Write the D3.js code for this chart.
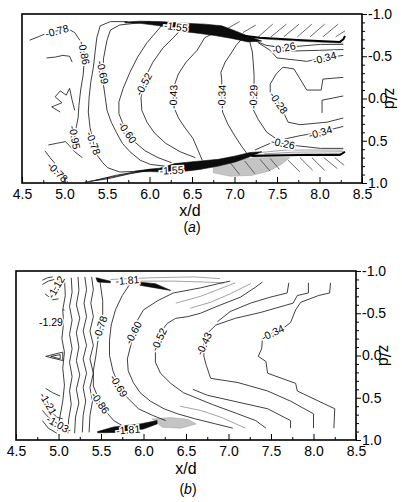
<!DOCTYPE html>
<html><head><meta charset="utf-8">
<script src="https://cdn.jsdelivr.net/npm/d3@7"></script>
<style>body{margin:0;background:#fff} svg{display:block} text{font-family:"Liberation Sans",Arial,Helvetica,sans-serif}</style>
</head><body><svg id="c" width="402" height="502"></svg>
<script>
// ---------- axes ----------
const xMajor = [4.5,5.0,5.5,6.0,6.5,7.0,7.5,8.0,8.5];
const xLabels = ["4.5","5.0","5.5","6.0","6.5","7.0","7.5","8.0","8.5"];
const xMinor = [4.75,5.25,5.75,6.25,6.75,7.25,7.75,8.25];
const zMajor = [-1,-0.5,0,0.5,1];
const zLabels = ["-1.0","-0.5","0.0","0.5","1.0"];
const zMinor = [-0.9,-0.8,-0.7,-0.6,-0.4,-0.3,-0.2,-0.1,0.1,0.2,0.3,0.4,0.6,0.7,0.8,0.9];

// ---------- panel (a) contour lines [x/d, z/d] ----------
const aL1 = [[4.59,-0.69],[4.69,-0.73],[4.76,-0.76],[4.91,-0.80],[5.05,-0.82],[5.12,-0.78],[5.18,-0.69],[5.22,-0.63],[5.23,-0.54],[5.23,-0.42],[5.22,-0.28],[5.19,-0.10],[5.17,0.08],[5.16,0.23],[5.14,0.33],[5.12,0.46],[5.10,0.58]];
const aL2 = [[4.79,-0.48],[4.89,-0.49],[4.98,-0.51],[5.06,-0.50],[5.09,-0.43]];
const aSquig = [[4.95,0.16],[4.85,0.10],[4.97,0.05],[4.89,-0.02],[4.95,-0.09],[5.02,-0.04],[5.06,-0.12],[5.09,0.02],[5.12,0.14]];
const aL4 = [[4.81,0.55],[4.91,0.53],[5.01,0.51],[5.06,0.56],[5.12,0.63],[5.21,0.70]];
const aL5 = [[4.77,0.62],[4.83,0.70],[4.88,0.76],[4.92,0.87],[4.99,0.95],[5.04,0.99]];
const aL6 = [[5.74,-0.91],[5.54,-0.91],[5.42,-0.86],[5.38,-0.72],[5.36,-0.55],[5.34,-0.37],[5.31,-0.20],[5.29,-0.02],[5.28,0.16],[5.30,0.34],[5.34,0.53],[5.39,0.68],[5.45,0.76],[5.51,0.82],[5.65,0.87],[5.89,0.86]];
const aL7 = [[6.01,-0.91],[5.65,-0.87],[5.54,-0.81],[5.50,-0.69],[5.46,-0.48],[5.45,-0.31],[5.46,-0.15],[5.48,-0.01],[5.50,0.14],[5.55,0.28],[5.61,0.40],[5.68,0.53],[5.77,0.63],[5.89,0.73],[6.01,0.78],[6.18,0.80]];
const aL8 = [[6.18,-0.91],[6.09,-0.80],[5.97,-0.66],[5.86,-0.49],[5.77,-0.31],[5.69,-0.12],[5.64,0.04],[5.64,0.18],[5.68,0.28],[5.74,0.40],[5.82,0.51],[5.95,0.62],[6.10,0.70],[6.26,0.76]];
const aL9 = [[6.42,-0.87],[6.30,-0.74],[6.16,-0.60],[6.04,-0.43],[5.97,-0.29],[5.93,-0.17],[5.90,-0.01],[5.91,0.14],[5.97,0.28],[6.06,0.41],[6.19,0.53],[6.36,0.63],[6.54,0.70]];
const aL10 = [[6.77,-0.78],[6.65,-0.72],[6.56,-0.57],[6.43,-0.43],[6.34,-0.29],[6.29,-0.15],[6.28,-0.02],[6.29,0.11],[6.34,0.23],[6.42,0.35],[6.51,0.47],[6.57,0.61],[6.62,0.73]];
const aL11 = [[7.10,-0.72],[7.02,-0.63],[6.97,-0.55],[6.89,-0.43],[6.84,-0.31],[6.85,-0.22],[6.85,-0.02],[6.86,0.16],[6.92,0.30],[6.99,0.42],[7.08,0.56],[7.16,0.67]];
const aL12 = [[7.18,-0.67],[7.21,-0.55],[7.22,-0.43],[7.23,-0.28],[7.23,-0.15],[7.22,-0.02],[7.21,0.11],[7.28,0.25],[7.38,0.40],[7.51,0.49]];
const aL13 = [[8.28,-0.25],[8.04,-0.23],[8.02,-0.10],[7.85,-0.10],[7.70,-0.35],[7.57,-0.37],[7.49,-0.29],[7.42,-0.17],[7.42,-0.08],[7.52,0.05],[7.58,0.17],[7.63,0.28],[7.77,0.31],[8.09,0.28],[8.28,0.23]];
const aL13b = [[8.28,-0.03],[8.03,0.02],[8.03,0.17]];
const aL14 = [[7.28,-0.66],[7.42,-0.57],[7.50,-0.48],[7.85,-0.44],[8.06,-0.48],[8.28,-0.51]];
const aL14b = [[7.45,-0.62],[7.60,-0.56],[8.00,-0.57],[8.28,-0.58]];
const aL15 = [[7.25,-0.68],[7.37,-0.63],[7.58,-0.60],[7.77,-0.62],[8.01,-0.64],[8.28,-0.64]];
const aL16 = [[7.59,0.48],[7.77,0.44],[8.01,0.40],[8.28,0.33]];
const aL17 = [[7.24,0.61],[7.42,0.53],[7.57,0.53],[7.74,0.56],[8.01,0.59],[8.28,0.59]];
const aConv1 = [[5.24,0.99],[5.51,0.95],[5.77,0.89],[6.01,0.85]];
const aConv2 = [[5.30,0.98],[5.55,0.93],[5.80,0.88],[6.01,0.845]];
const aConv3 = [[5.36,0.97],[5.60,0.91],[5.83,0.87],[6.01,0.84]];
const aFanTop = [[7.10,-0.73],[7.40,-0.70],[8.00,-0.665],[8.28,-0.655]];
const aFanBot1 = [[7.30,0.64],[7.60,0.61],[8.28,0.61]];
const aFanBot2 = [[7.35,0.655],[7.70,0.635],[8.28,0.63]];
const aFanBot3 = [[7.25,0.665],[8.28,0.65]];
const aThickTop = [[7.06,-0.75],[7.30,-0.72],[7.80,-0.69],[8.24,-0.67],[8.28,-0.70],[8.30,-0.74]];
const aThickBot = [[7.20,0.68],[7.77,0.67],[8.24,0.67],[8.30,0.63]];
const aHatchTop = [[[7.28,-0.73],[7.45,-0.88]],[[7.43,-0.73],[7.61,-0.88]],[[7.58,-0.73],[7.76,-0.88]],[[7.74,-0.73],[7.91,-0.88]],[[7.89,-0.73],[8.06,-0.88]],[[8.04,-0.73],[8.22,-0.88]],[[8.19,-0.73],[8.30,-0.80]],[[6.92,-0.83],[7.06,-0.91]],[[7.10,-0.78],[7.25,-0.87]]];
const aHatchBot = [[[7.63,0.73],[7.77,0.87]],[[7.77,0.70],[7.92,0.85]],[[7.91,0.70],[8.06,0.85]],[[8.05,0.70],[8.21,0.83]],[[8.18,0.70],[8.29,0.79]],[[7.30,0.72],[7.42,0.86]],[[7.42,0.71],[7.53,0.84]],[[7.12,0.74],[7.24,0.89]],[[6.95,0.76],[7.06,0.90]]];
const aWedgeTop = [[5.71,-0.905],[5.89,-0.915],[6.12,-0.91],[6.42,-0.89],[6.65,-0.88],[6.85,-0.86],[7.01,-0.80],[7.18,-0.73],[7.32,-0.68],[7.16,-0.67],[6.97,-0.71],[6.77,-0.745],[6.59,-0.77],[6.42,-0.79],[6.24,-0.83],[6.12,-0.86],[5.89,-0.89],[5.71,-0.895]];
const aWedgeBot = [[5.83,0.86],[6.01,0.835],[6.12,0.825],[6.30,0.77],[6.54,0.745],[6.81,0.72],[7.01,0.68],[7.18,0.64],[7.32,0.63],[7.18,0.69],[7.01,0.75],[6.81,0.80],[6.59,0.84],[6.42,0.86],[6.18,0.87],[6.01,0.865],[5.83,0.865]];
const aGrayBot = [[6.75,0.79],[6.95,0.74],[7.24,0.70],[7.65,0.70],[7.55,0.78],[7.40,0.86],[7.20,0.91],[6.95,0.92],[6.75,0.88]];
const aLabelText = ["-0.78","-0.86","-0.95","-0.78","-0.78","-0.69","-0.60","-0.52","-0.43","-0.34","-0.29","-0.28","-0.26","-0.34","-0.34","-0.26","-1.55","-1.55"];
const aLabelPos = [[4.91,-0.80],[5.23,-0.54],[5.12,0.46],[4.92,0.87],[5.34,0.53],[5.45,-0.31],[5.74,0.40],[5.93,-0.17],[6.28,-0.02],[6.85,-0.02],[7.22,-0.02],[7.52,0.05],[7.58,-0.60],[8.06,-0.48],[8.01,0.40],[7.57,0.53],[6.31,-0.85],[6.26,0.85]];

// ---------- panel (b) contour lines ----------
const bTL1 = [[4.81,-0.89],[4.87,-0.92],[4.93,-0.93]];
const bTL2 = [[4.81,-0.84],[4.88,-0.88],[4.95,-0.90]];
const bTL3 = [[4.90,-0.70],[4.94,-0.76],[4.97,-0.81],[5.00,-0.86],[5.03,-0.91]];
const bTL4 = [[4.84,-0.73],[4.88,-0.70],[4.93,-0.66],[5.00,-0.67]];
const bDot = [[5.06,-0.55],[5.065,-0.53]];
const bV1 = [[5.07,-0.92],[5.08,-0.71],[5.05,-0.54],[5.06,-0.39],[5.04,-0.20],[5.07,-0.04],[5.05,0.15],[5.07,0.35],[5.05,0.54],[5.02,0.71],[4.99,0.89]];
const bV2 = [[5.15,-0.92],[5.16,-0.75],[5.13,-0.58],[5.16,-0.42],[5.13,-0.25],[5.16,-0.08],[5.13,0.08],[5.16,0.25],[5.13,0.42],[5.15,0.58],[5.12,0.75],[5.11,0.92]];
const bV3 = [[5.23,-0.93],[5.24,-0.77],[5.21,-0.60],[5.25,-0.44],[5.21,-0.27],[5.24,-0.10],[5.21,0.06],[5.25,0.23],[5.21,0.40],[5.24,0.56],[5.20,0.73],[5.19,0.92]];
const bV4 = [[5.31,-0.93],[5.33,-0.78],[5.30,-0.62],[5.33,-0.46],[5.29,-0.29],[5.33,-0.12],[5.29,0.04],[5.33,0.21],[5.29,0.38],[5.32,0.54],[5.29,0.71],[5.28,0.91]];
const bV5 = [[5.39,-0.93],[5.41,-0.78],[5.38,-0.62],[5.41,-0.46],[5.37,-0.29],[5.41,-0.12],[5.37,0.04],[5.41,0.21],[5.37,0.38],[5.40,0.54],[5.37,0.71],[5.36,0.91]];
const bV6 = [[5.47,-0.92],[5.49,-0.86],[5.52,-0.65],[5.52,-0.48],[5.49,-0.33],[5.46,-0.15],[5.44,0.00],[5.41,0.18],[5.41,0.36],[5.49,0.56],[5.58,0.69],[5.65,0.77],[5.75,0.83],[5.91,0.87]];
const bM69 = [[5.85,-0.86],[5.75,-0.71],[5.67,-0.54],[5.62,-0.36],[5.60,-0.18],[5.60,0.00],[5.64,0.18],[5.71,0.36],[5.80,0.49],[5.94,0.63],[6.11,0.71],[6.26,0.77]];
const bM60 = [[7.02,-0.88],[6.88,-0.85],[6.67,-0.80],[6.35,-0.74],[6.17,-0.65],[6.00,-0.54],[5.93,-0.42],[5.88,-0.27],[5.85,-0.12],[5.81,0.04],[5.82,0.18],[5.88,0.32],[5.96,0.44],[6.08,0.54],[6.24,0.63],[6.40,0.69],[6.61,0.75],[6.85,0.81],[7.05,0.86]];
const bM52 = [[7.40,-0.87],[7.32,-0.81],[7.14,-0.69],[6.91,-0.60],[6.67,-0.50],[6.52,-0.46],[6.38,-0.44],[6.28,-0.38],[6.22,-0.30],[6.18,-0.18],[6.14,-0.06],[6.14,0.08],[6.20,0.21],[6.32,0.33],[6.47,0.44],[6.64,0.51],[6.81,0.58],[7.08,0.68],[7.32,0.77],[7.44,0.86]];
const bM43 = [[7.94,-0.86],[7.94,-0.74],[7.81,-0.71],[7.76,-0.62],[7.38,-0.51],[7.08,-0.44],[6.85,-0.36],[6.75,-0.26],[6.71,-0.14],[6.71,0.01],[6.74,0.12],[6.79,0.27],[7.11,0.32],[7.46,0.42],[7.73,0.54],[8.00,0.69],[8.00,0.86]];
const bM34 = [[8.20,-0.86],[8.19,-0.74],[8.06,-0.71],[7.85,-0.63],[7.79,-0.54],[7.73,-0.39],[7.64,-0.32],[7.52,-0.27],[7.40,-0.20],[7.39,-0.08],[7.35,0.01],[7.44,0.07],[7.46,0.21],[7.79,0.33],[7.81,0.42],[8.06,0.54],[8.25,0.63],[8.24,0.86]];
const bEa = [[6.38,-0.62],[6.67,-0.70],[6.85,-0.77],[7.08,-0.86]];
const bEb = [[6.55,-0.56],[6.79,-0.63],[7.02,-0.73],[7.26,-0.85]];
const bE2 = [[7.71,-0.86],[7.69,-0.74],[7.49,-0.69],[7.26,-0.62],[7.02,-0.52],[6.87,-0.40]];
const bE3 = [[6.58,0.40],[6.75,0.47],[7.06,0.54],[7.46,0.63],[7.73,0.77],[7.73,0.86]];
const bEc = [[6.43,0.60],[6.67,0.65],[6.91,0.73],[7.20,0.86]];
const bT1 = [[5.61,-0.90],[6.10,-0.92],[6.60,-0.93],[6.90,-0.91]];
const bT2 = [[5.95,-0.88],[6.35,-0.88],[6.70,-0.87],[6.95,-0.86]];
const bBL0 = [[4.85,0.39],[4.93,0.44],[5.02,0.48]];
const bBL1 = [[4.81,0.45],[4.85,0.51],[4.88,0.57],[4.93,0.68],[4.98,0.73],[5.05,0.75]];
const bBL2 = [[4.81,0.65],[4.88,0.73],[4.99,0.81],[5.07,0.87],[5.14,0.89]];
const bBL3 = [[4.81,0.77],[4.88,0.86],[4.98,0.92]];
const bTri1 = [[4.85,0.01],[5.05,-0.04],[5.05,0.06],[4.85,0.01]];
const bTri2 = [[4.91,0.01],[5.02,-0.01],[5.02,0.04],[4.91,0.01]];
const bW1 = [[5.44,-0.92],[5.61,-0.88],[5.61,-0.86],[5.46,-0.87]];
const bW2 = [[5.93,-0.87],[6.14,-0.85],[6.32,-0.77],[6.14,-0.80],[5.96,-0.83]];
const bBW = [[5.46,0.90],[5.65,0.845],[5.96,0.81],[6.16,0.77],[6.16,0.81],[6.00,0.87],[5.69,0.91],[5.46,0.915]];
const bGray = [[6.10,0.75],[6.32,0.735],[6.52,0.755],[6.62,0.81],[6.44,0.86],[6.22,0.85]];
const bLabelText = ["-1.12","-1.29","-0.78","-0.60","-0.52","-0.43","-0.34","-0.69","-0.86","-1.21","-1.03","-1.81","-1.81"];
const bLabelPos = [[4.97,-0.81],[4.91,-0.39],[5.49,-0.33],[5.88,-0.27],[6.18,-0.19],[6.71,-0.14],[7.52,-0.27],[5.71,0.36],[5.49,0.56],[4.88,0.57],[4.99,0.81],[5.81,-0.89],[5.82,0.88]];

// ---------- drawing ----------
const svg = d3.select("#c");
function panel(box, d) {
  const x = d3.scaleLinear().domain([4.5, 8.5]).range([box.l, box.r]);
  const y = d3.scaleLinear().domain([-1, 1]).range([box.t, box.b]);
  const line = d3.line().x(p => x(p[0])).y(p => y(p[1]));
  const cid = "clip" + box.id;
  svg.append("clipPath").attr("id", cid).append("rect")
    .attr("x", box.l).attr("y", box.t).attr("width", box.r - box.l).attr("height", box.b - box.t);
  const g = svg.append("g").attr("clip-path", `url(#${cid})`);
  const draw = (arr, attrs, closed) => {
    const s = g.append("g").selectAll("path").data(arr).join("path")
      .attr("d", p => line(p) + (closed ? "Z" : ""));
    Object.entries(attrs).forEach(([k, v]) => s.attr(k, v));
  };
  draw(d.grayFills, {fill: "#c4c4c4", stroke: "#a0a0a0", "stroke-width": 0.5}, true);
  draw(d.gray, {fill: "none", stroke: "#7d7d7d", "stroke-width": 0.7});
  draw(d.lines, {fill: "none", stroke: "#1e1e1e", "stroke-width": 0.85, "stroke-linejoin": "round"});
  draw(d.hatch, {fill: "none", stroke: "#444", "stroke-width": 0.8});
  draw(d.black, {fill: "#0c0c0c", stroke: "#0c0c0c", "stroke-width": 0.6}, true);
  draw(d.thick, {fill: "none", stroke: "#000", "stroke-width": 2});
  g.append("g").selectAll("text").data(d.labelText).join("text")
    .attr("transform", (t, i) => `translate(${x(d.labelPos[i][0])},${y(d.labelPos[i][1])}) rotate(${d.labelAng[i]})`)
    .attr("text-anchor", "middle").attr("dy", "0.36em")
    .attr("font-size", 10.5).attr("fill", "#000")
    .attr("stroke", "#fff").attr("stroke-width", 3).attr("paint-order", "stroke")
    .text(t => t);
  svg.append("rect").attr("x", box.l).attr("y", box.t).attr("width", box.r - box.l).attr("height", box.b - box.t)
    .attr("fill", "none").attr("stroke", "#000").attr("stroke-width", 1.6);
  const bx = svg.append("g").attr("transform", `translate(0,${box.b})`)
    .call(d3.axisBottom(x).tickValues(xMajor).tickSize(-6).tickPadding(6).tickFormat((v, i) => xLabels[i]));
  const bxm = svg.append("g").attr("transform", `translate(0,${box.b})`)
    .call(d3.axisBottom(x).tickValues(xMinor).tickSize(-3).tickFormat(""));
  const ry = svg.append("g").attr("transform", `translate(${box.r},0)`)
    .call(d3.axisRight(y).tickValues(zMajor).tickSize(5).tickPadding(1).tickFormat((v, i) => zLabels[i]));
  const rym = svg.append("g").attr("transform", `translate(${box.r},0)`)
    .call(d3.axisRight(y).tickValues(zMinor).tickSize(3).tickFormat(""));
  [bx, bxm, ry, rym].forEach(a => {
    a.select(".domain").remove();
    a.selectAll("line").attr("stroke", "#000").attr("stroke-width", 1);
    a.selectAll("text").attr("font-size", 14).attr("fill", "#000")
      .attr("font-family", '"Liberation Sans",Arial,sans-serif');
  });
  svg.append("text").attr("x", box.xt).attr("y", box.xtY).attr("text-anchor", "middle")
    .attr("font-size", 16).text("x/d");
  svg.append("text").attr("transform", `translate(${box.zx},${(box.t + box.b) / 2}) rotate(90)`)
    .attr("text-anchor", "middle").attr("dy", "0.35em").attr("font-size", 16).text("z/d");
  const cap = svg.append("text").attr("x", box.xt + 2).attr("y", box.capY).attr("text-anchor", "middle").attr("font-size", 14);
  cap.append("tspan").text("(");
  cap.append("tspan").attr("font-style", "italic").text(box.cap);
  cap.append("tspan").text(")");
}

panel({id: "a", l: 22, r: 362, t: 14, b: 183, xt: 190, xtY: 216, zx: 391, capY: 232, cap: "a"}, {
  grayFills: [aGrayBot],
  gray: [aFanTop, aFanBot1, aFanBot2, aFanBot3],
  lines: [aL1, aL2, aSquig, aL4, aL5, aL6, aL7, aL8, aL9, aL10, aL11, aL12, aL13, aL13b, aL14, aL14b, aL15, aL16, aL17, aConv1, aConv2, aConv3],
  hatch: aHatchTop.concat(aHatchBot),
  black: [aWedgeTop, aWedgeBot],
  thick: [aThickTop, aThickBot],
  labelText: aLabelText, labelPos: aLabelPos,
  labelAng: [-15, 80, 80, 45, 70, 78, 55, -62, -88, -88, -88, 55, -12, -15, -15, 12, 8, -3]
});

panel({id: "b", l: 16, r: 356, t: 271, b: 440, xt: 186, xtY: 474, zx: 385, capY: 494, cap: "b"}, {
  grayFills: [bGray],
  gray: [bT1, bT2, bEa, bEb, bEc],
  lines: [bTL1, bTL2, bTL3, bTL4, bDot, bV1, bV2, bV3, bV4, bV5, bV6, bM69, bM60, bM52, bM43, bM34, bE2, bE3, bBL0, bBL1, bBL2, bBL3, bTri1, bTri2],
  hatch: [],
  black: [bW1, bW2, bBW],
  thick: [],
  labelText: bLabelText, labelPos: bLabelPos,
  labelAng: [-60, 0, -72, -62, -65, -65, -25, 60, 55, 60, 30, -5, -5]
});
</script></body></html>
